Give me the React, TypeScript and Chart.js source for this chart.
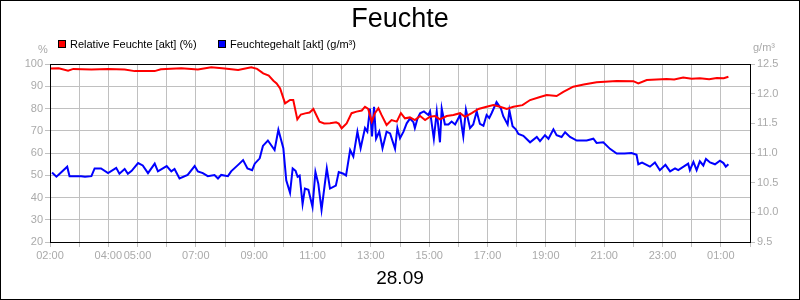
import React, { useEffect, useRef } from "react";
import { Chart, registerables } from "chart.js";

Chart.register(...registerables);

const TITLE = "Feuchte";
const DATE_LABEL = "28.09";
const SERIES_NAMES = ["Relative Feuchte [akt] (%)", "Feuchtegehalt [akt] (g/m³)"];
const LEFT_UNIT = "%";
const RIGHT_UNIT = "g/m³";

// time in hours of day (values above 24 belong to the next day)
const relTimes = [
  2.0, 2.3, 2.62, 2.8, 3.42, 4.0, 4.56, 4.9, 5.3, 5.59,
  5.8, 6.5, 7.07, 7.53, 7.99, 8.45, 8.9, 9.1, 9.31, 9.5,
  9.66, 9.77, 9.89, 10.06, 10.23, 10.34, 10.48, 10.6, 10.75, 10.9,
  11.03, 11.24, 11.4, 11.6, 11.81, 11.9, 12.0, 12.17, 12.34, 12.51,
  12.69, 12.8, 12.91, 13.03, 13.14, 13.26, 13.37, 13.54, 13.71, 13.89,
  14.03, 14.17, 14.34, 14.51, 14.69, 14.86, 15.03, 15.2, 15.37, 15.6,
  15.83, 16.06, 16.23, 16.46, 16.69, 16.97, 17.2, 17.43, 17.66, 17.89,
  18.2, 18.46, 18.8, 19.03, 19.37, 19.6, 19.94, 20.3, 20.74, 21.43,
  22.0, 22.17, 22.46, 23.14, 23.4, 23.71, 24.0, 24.28, 24.6, 24.86,
  25.1, 25.26,
];
const relValues = [
  98.0, 98.1, 97.0, 97.8, 97.5, 97.8, 97.5, 96.8, 96.9, 96.8,
  97.6, 98.1, 97.5, 98.5, 98.0, 97.3, 98.5, 97.8, 95.8, 94.8,
  92.5, 91.3, 89.0, 82.3, 83.8, 83.8, 75.1, 77.3, 77.8, 78.2,
  79.8, 74.1, 73.3, 73.4, 73.8, 73.2, 71.1, 73.3, 77.9, 78.6,
  79.1, 80.8, 79.8, 74.1, 77.9, 80.1, 77.0, 72.6, 74.8, 74.1,
  77.9, 75.6, 76.0, 74.8, 76.6, 74.8, 76.3, 76.6, 75.1, 76.6,
  77.1, 77.9, 76.3, 77.9, 79.8, 80.8, 81.6, 80.8, 79.8, 80.8,
  81.5, 83.8, 85.2, 86.1, 85.6, 87.5, 89.8, 90.8, 91.8, 92.4,
  92.3, 91.3, 92.8, 93.3, 93.0, 93.9, 93.4, 93.6, 93.2, 93.7,
  93.6, 94.3,
];

const absTimes = [
  2.07, 2.22, 2.35, 2.59, 2.67, 3.07, 3.2, 3.42, 3.53, 3.75,
  3.99, 4.27, 4.38, 4.56, 4.67, 4.8, 5.02, 5.18, 5.36, 5.59,
  5.7, 6.0, 6.16, 6.27, 6.44, 6.72, 6.96, 7.07, 7.24, 7.41,
  7.64, 7.76, 7.87, 8.1, 8.21, 8.45, 8.62, 8.77, 8.93, 9.02,
  9.19, 9.3, 9.47, 9.7, 9.83, 10.0, 10.1, 10.23, 10.32, 10.42,
  10.49, 10.56, 10.66, 10.74, 10.86, 11.0, 11.1, 11.2, 11.31, 11.49,
  11.6, 11.8, 11.9, 12.06, 12.15, 12.29, 12.4, 12.54, 12.65, 12.8,
  12.88, 12.97, 13.04, 13.11, 13.18, 13.29, 13.4, 13.54, 13.66, 13.83,
  13.91, 14.0, 14.12, 14.23, 14.34, 14.46, 14.51, 14.6, 14.69, 14.82,
  14.97, 15.03, 15.16, 15.26, 15.37, 15.43, 15.54, 15.66, 15.77, 15.89,
  16.06, 16.17, 16.26, 16.4, 16.51, 16.63, 16.74, 16.86, 16.97, 17.06,
  17.14, 17.31, 17.46, 17.54, 17.69, 17.75, 17.86, 17.97, 18.06, 18.23,
  18.46, 18.69, 18.8, 18.97, 19.09, 19.26, 19.37, 19.54, 19.66, 19.83,
  20.06, 20.4, 20.63, 20.74, 20.97, 21.2, 21.43, 21.7, 21.94, 22.11,
  22.17, 22.3, 22.57, 22.74, 22.91, 23.1, 23.26, 23.43, 23.54, 23.88,
  23.94, 24.06, 24.17, 24.28, 24.4, 24.49, 24.63, 24.8, 24.97, 25.09,
  25.17, 25.26,
];
const absValues = [
  10.67, 10.6, 10.66, 10.77, 10.61, 10.61, 10.6, 10.61, 10.74, 10.74,
  10.66, 10.75, 10.65, 10.73, 10.65, 10.7, 10.83, 10.79, 10.66, 10.82,
  10.69, 10.78, 10.69, 10.73, 10.57, 10.63, 10.78, 10.69, 10.66, 10.61,
  10.63, 10.57, 10.63, 10.61, 10.69, 10.8, 10.88, 10.74, 10.71, 10.82,
  10.91, 11.12, 11.21, 11.05, 11.39, 11.08, 10.54, 10.33, 10.74, 10.7,
  10.6, 10.62, 10.14, 10.4, 10.38, 10.09, 10.68, 10.48, 10.04, 10.74,
  10.4, 10.45, 10.68, 10.65, 10.62, 11.05, 10.94, 11.36, 11.08, 11.42,
  11.36, 11.75, 11.28, 11.78, 11.24, 11.36, 11.08, 11.36, 11.33, 11.07,
  11.42, 11.25, 11.36, 11.5, 11.58, 11.52, 11.42, 11.58, 11.67, 11.7,
  11.64, 11.7, 11.24, 11.7, 11.18, 11.75, 11.48, 11.48, 11.53, 11.48,
  11.64, 11.28, 11.73, 11.42, 11.48, 11.7, 11.49, 11.46, 11.64, 11.59,
  11.67, 11.86, 11.75, 11.62, 11.48, 11.72, 11.45, 11.4, 11.32, 11.29,
  11.18, 11.27, 11.2, 11.3, 11.24, 11.4, 11.3, 11.27, 11.35, 11.27,
  11.21, 11.21, 11.24, 11.17, 11.18, 11.07, 10.99, 10.99, 11.0, 10.97,
  10.81, 10.84, 10.77, 10.84, 10.71, 10.8, 10.69, 10.74, 10.71, 10.82,
  10.71, 10.85, 10.71, 10.86, 10.79, 10.9, 10.84, 10.81, 10.87, 10.83,
  10.77, 10.81,
];

const labeledHours = [2, 4, 5, 7, 9, 11, 13, 15, 17, 19, 21, 23, 25];
const X_MIN = 2;
const X_MAX = 26;

const FONT = '"Liberation Sans", Arial, Helvetica, sans-serif';
const GRID = "#c0c0c0";
const TICK_TEXT = "#aaaaaa";
const RED = "#ff0000";
const BLUE = "#0000ff";

const decorPlugin = {
  id: "decor",
  beforeDraw(chart: any) {
    const { ctx, width, height } = chart;
    ctx.save();
    ctx.fillStyle = "#ffffff";
    ctx.fillRect(0, 0, width, height);
    ctx.restore();
  },
  afterDraw(chart: any) {
    const { ctx, width, height, chartArea: a } = chart;
    ctx.save();
    // plot frame
    ctx.strokeStyle = "#000";
    ctx.lineWidth = 1;
    ctx.strokeRect(Math.round(a.left) + 0.5, Math.round(a.top) + 0.5, Math.round(a.right - a.left), Math.round(a.bottom - a.top));
    // outer frame
    ctx.strokeRect(0.5, 0.5, width - 1, height - 1);

    // title
    ctx.fillStyle = "#000";
    ctx.textAlign = "center";
    ctx.textBaseline = "alphabetic";
    ctx.font = `27px ${FONT}`;
    ctx.fillText(TITLE, width / 2, 27);

    // date below axis
    ctx.font = `19px ${FONT}`;
    ctx.fillText(DATE_LABEL, width / 2, 284);

    // legend
    ctx.font = `11px ${FONT}`;
    ctx.textAlign = "left";
    const items = [
      { x: 58, color: RED, text: SERIES_NAMES[0] },
      { x: 218, color: BLUE, text: SERIES_NAMES[1] },
    ];
    for (const it of items) {
      ctx.fillStyle = it.color;
      ctx.fillRect(it.x, 40, 8, 8);
      ctx.strokeStyle = "#000";
      ctx.strokeRect(it.x + 0.5, 40.5, 7, 7);
      ctx.fillStyle = "#000";
      ctx.fillText(it.text, it.x + 12, 48);
    }

    // axis units
    ctx.fillStyle = TICK_TEXT;
    ctx.textAlign = "center";
    ctx.fillText(LEFT_UNIT, 43, 53);
    ctx.textAlign = "left";
    ctx.fillText(RIGHT_UNIT, 753, 51);
    ctx.restore();
  },
};

export default function App() {
  const ref = useRef<HTMLCanvasElement>(null);

  useEffect(() => {
    const canvas = ref.current;
    if (!canvas) return;
    const chart = new Chart(canvas, {
      type: "line",
      data: {
        datasets: [
          {
            label: SERIES_NAMES[0],
            data: relTimes.map((t, i) => ({ x: t, y: relValues[i] })),
            borderColor: RED,
            backgroundColor: RED,
            borderWidth: 2,
            pointRadius: 0,
            tension: 0,
            yAxisID: "y",
          },
          {
            label: SERIES_NAMES[1],
            data: absTimes.map((t, i) => ({ x: t, y: absValues[i] })),
            borderColor: BLUE,
            backgroundColor: BLUE,
            borderWidth: 2,
            pointRadius: 0,
            tension: 0,
            yAxisID: "y1",
          },
        ],
      },
      options: {
        responsive: false,
        animation: false,
        devicePixelRatio: 1,
        layout: { padding: { top: 64, bottom: 0, left: 0, right: 0 } },
        plugins: {
          legend: { display: false },
          title: { display: false },
          tooltip: { enabled: false },
        },
        scales: {
          x: {
            type: "linear",
            min: X_MIN,
            max: X_MAX,
            afterBuildTicks: (scale: any) => {
              const ticks = [];
              for (let h = X_MIN; h <= X_MAX; h++) ticks.push({ value: h });
              scale.ticks = ticks;
            },
            afterFit: (scale: any) => {
              scale.height = 58;
            },
            ticks: {
              autoSkip: false,
              maxRotation: 0,
              minRotation: 0,
              color: TICK_TEXT,
              font: { family: FONT, size: 11 },
              padding: 2,
              callback: (v: any) => {
                const h = Number(v);
                if (!labeledHours.includes(h)) return "";
                const hh = ((h % 24) + 24) % 24;
                return String(hh).padStart(2, "0") + ":00";
              },
            },
            grid: { color: GRID, tickLength: 5, lineWidth: 1 },
            border: { color: "#000", width: 1 },
          },
          y: {
            type: "linear",
            position: "left",
            min: 20,
            max: 100,
            afterFit: (scale: any) => {
              scale.width = 50;
            },
            ticks: {
              stepSize: 10,
              color: TICK_TEXT,
              font: { family: FONT, size: 11 },
              padding: 2,
            },
            grid: { color: GRID, tickLength: 5, lineWidth: 1 },
            border: { color: "#000", width: 1 },
          },
          y1: {
            type: "linear",
            position: "right",
            min: 9.5,
            max: 12.5,
            afterFit: (scale: any) => {
              scale.width = 50;
            },
            ticks: {
              stepSize: 0.5,
              color: TICK_TEXT,
              font: { family: FONT, size: 11 },
              padding: 2,
              callback: (v: any) => Number(v).toFixed(1),
            },
            grid: { drawOnChartArea: false, color: GRID, tickLength: 5, lineWidth: 1 },
            border: { color: "#000", width: 1 },
          },
        },
      } as any,
      plugins: [decorPlugin],
    });
    return () => chart.destroy();
  }, []);

  return (
    <div style={{ position: "fixed", left: 0, top: 0, width: 800, height: 300, background: "#fff" }}>
      <canvas ref={ref} width={800} height={300} style={{ display: "block", width: 800, height: 300 }} />
    </div>
  );
}
